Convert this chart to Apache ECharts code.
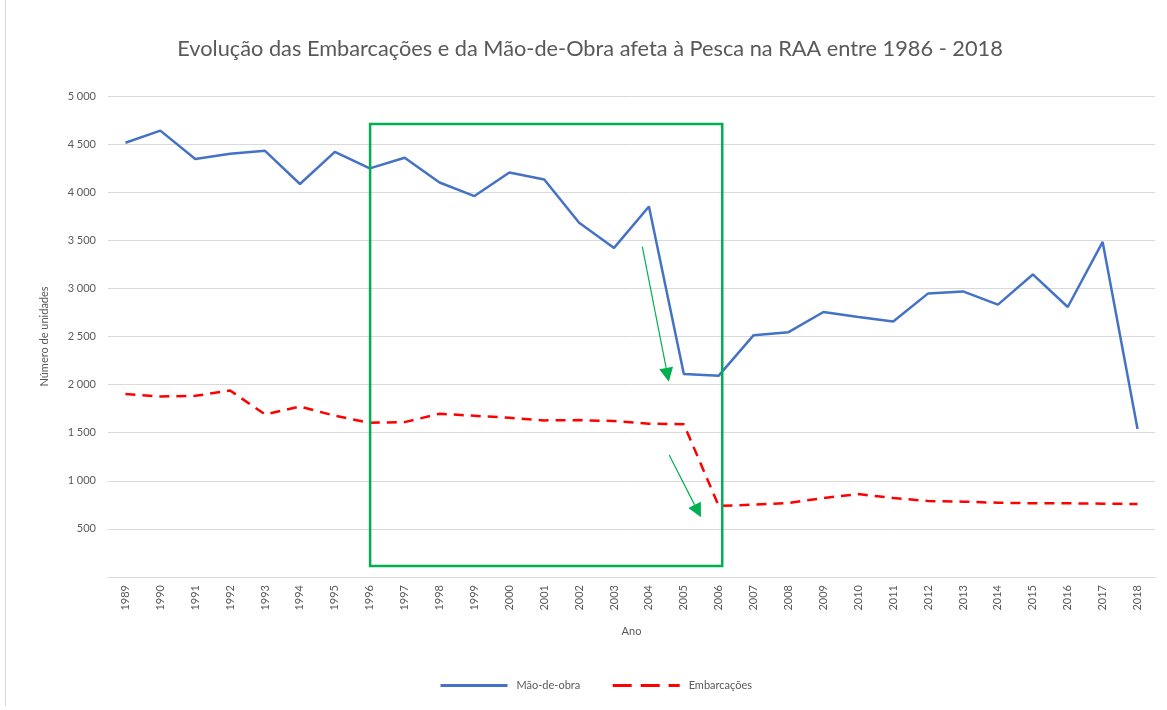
<!DOCTYPE html>
<html>
<head>
<meta charset="utf-8">
<script src="https://cdn.jsdelivr.net/npm/echarts@6/dist/echarts.min.js"></script>
<style>
html,body{margin:0;padding:0;background:#fff;}
#c{width:1167px;height:710px;}
</style>
</head>
<body>
<div id="c"></div>
<script>
const years = ['1989','1990','1991','1992','1993','1994','1995','1996','1997','1998','1999','2000','2001','2002','2003','2004','2005','2006','2007','2008','2009','2010','2011','2012','2013','2014','2015','2016','2017','2018'];
const maoDeObra = [4514,4640,4345,4400,4430,4085,4420,4248,4358,4101,3960,4205,4132,3682,3421,3852,2110,2093,2514,2545,2755,2703,2655,2948,2969,2831,3145,2807,3483,1538];
const embarcacoes = [1903,1876,1883,1938,1690,1772,1676,1603,1610,1697,1676,1655,1628,1631,1621,1593,1588,738,752,769,821,862,821,790,783,772,766,766,762,759];
// annotation box and arrows, in data coordinates (fractional category index, value)
const boxCorners = [[7.01, 4710], [17.10, 115]];
const arrows = [
  [[14.81, 3434], [15.57, 2030]],
  [[15.58, 1268], [16.49, 620]]
];

const FONT = 'Lato';
const GREY = '#595959';
const chart = echarts.init(document.getElementById('c'), null, {renderer: 'canvas'});

const option = {
  backgroundColor: '#fff',
  animation: false,
  title: {
    text: 'Evolução das Embarcações e da Mão-de-Obra afeta à Pesca na RAA entre 1986 - 2018',
    left: 585, top: 33, textAlign: 'center',
    textStyle: {fontFamily: FONT, fontSize: 21.75, fontWeight: 'normal', color: GREY}
  },
  legend: {
    left: 439, top: 680, padding: 0,
    icon: 'inherit',
    itemWidth: 67, itemHeight: 14, itemGap: 31,
    itemStyle: {opacity: 0},
    textStyle: {fontFamily: FONT, fontSize: 11, color: GREY, padding: [0,0,0,4]},
    data: [
      {name: 'Mão-de-obra', lineStyle: {width: 3}},
      {name: 'Embarcações', lineStyle: {type: [19, 9], width: 3}}
    ]
  },
  grid: {left: 108, right: 12, top: 96, bottom: 133, containLabel: false},
  xAxis: {
    type: 'category', data: years, boundaryGap: true,
    name: 'Ano', nameLocation: 'middle', nameGap: 49,
    nameTextStyle: {fontFamily: FONT, fontSize: 11, color: GREY},
    axisTick: {show: false},
    axisLine: {lineStyle: {color: '#d9d9d9', width: 1}},
    axisLabel: {rotate: 90, interval: 0, margin: 8, fontFamily: FONT, fontSize: 11, color: GREY}
  },
  yAxis: {
    type: 'value', min: 0, max: 5000, interval: 500,
    name: 'Número de unidades', nameLocation: 'middle', nameGap: 58, nameRotate: 90,
    nameTextStyle: {fontFamily: FONT, fontSize: 11, color: GREY},
    axisLine: {show: false}, axisTick: {show: false},
    splitLine: {lineStyle: {color: '#d9d9d9', width: 1}},
    axisLabel: {
      margin: 12, fontFamily: FONT, fontSize: 11, color: GREY,
      formatter: function (v) { return v === 0 ? '' : String(v).replace(/\B(?=(\d{3})+(?!\d))/g, ' '); }
    }
  },
  series: [
    {
      name: 'Mão-de-obra', type: 'line', data: maoDeObra, symbol: 'none',
      lineStyle: {color: '#4472C4', width: 2.5}, itemStyle: {color: '#4472C4'}, z: 3
    },
    {
      name: 'Embarcações', type: 'line', data: embarcacoes, symbol: 'none',
      lineStyle: {color: '#FF0000', width: 2.5, type: [10, 7]}, itemStyle: {color: '#FF0000'}, z: 3
    }
  ]
};
chart.setOption(option);

// category axis rounds indices, so interpolate between category centres
const p0 = chart.convertToPixel({gridIndex: 0}, [0, 0]);
const p1 = chart.convertToPixel({gridIndex: 0}, [1, 5000]);
const step = p1[0] - p0[0];
function px(p) {
  const y = chart.convertToPixel({yAxisIndex: 0}, p[1]);
  return [p0[0] + p[0] * step, y];
}
const green = '#00B050';
const g = [];
g.push({type: 'line', shape: {x1: 5.5, y1: 0, x2: 5.5, y2: 706}, style: {stroke: '#d9d9d9', lineWidth: 1}, z: 1});
const a = px(boxCorners[0]), b = px(boxCorners[1]);
g.push({type: 'rect', shape: {x: a[0], y: a[1], width: b[0] - a[0], height: b[1] - a[1]},
  style: {fill: 'none', stroke: green, lineWidth: 2.5}, z: 10});
arrows.forEach(function (ar) {
  const s = px(ar[0]), t = px(ar[1]);
  const dx = t[0] - s[0], dy = t[1] - s[1];
  const L = Math.sqrt(dx*dx + dy*dy), ux = dx / L, uy = dy / L;
  const hl = 14, hw = 7;
  const bx = t[0] - ux * hl, by = t[1] - uy * hl;
  g.push({type: 'line', shape: {x1: s[0], y1: s[1], x2: bx, y2: by}, style: {stroke: green, lineWidth: 1.2}, z: 10});
  g.push({type: 'polygon', shape: {points: [[t[0], t[1]], [bx - uy * hw, by + ux * hw], [bx + uy * hw, by - ux * hw]]},
    style: {fill: green}, z: 10});
});
chart.setOption({graphic: g});
</script>
</body>
</html>
